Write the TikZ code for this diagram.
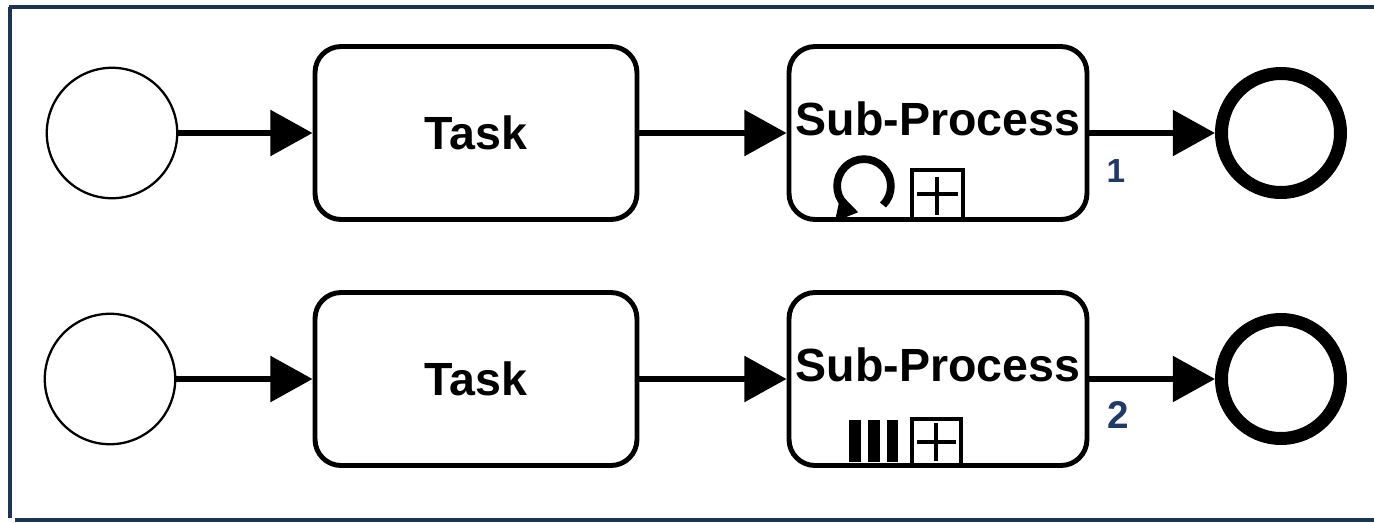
\documentclass[tikz,border=0pt]{standalone}
\usepackage{fontspec}
\setmainfont{Liberation Sans}
\usepackage{tikz}
\usetikzlibrary{positioning, arrows.meta, calc}
\definecolor{frameblue}{HTML}{1C3454}
\definecolor{labelblue}{HTML}{1F3A68}

\begin{document}
\begin{tikzpicture}[x=0.02cm, y=-0.02cm,
	startevent/.style={draw, circle, line width=1.3pt, minimum size=2.61cm, inner sep=0pt},
	endevent/.style={draw, circle, line width=7.4pt, minimum size=2.38cm, inner sep=0pt},
	activity/.style={draw, rectangle, rounded corners=0.52cm, line width=2.8pt, inner sep=0pt,
		minimum height=3.46cm, font=\fontsize{26.5}{30}\selectfont\bfseries},
	subtext/.style={text height=19.5pt, text depth=16.5pt},
	flow/.style={line width=3.6pt, -{Triangle[length=24pt, width=25.5pt]}},
	marker/.style={line width=2.6pt},
	number/.style={text=labelblue, inner sep=0pt}]
			
			\useasboundingbox (0,0) rectangle (1374,522);
			
			%Frame
			\draw[frameblue, line width=2pt] (9,7) -- (1374,7);
			\draw[frameblue, line width=2pt] (10,7) -- (10,518);
			\draw[frameblue, line width=2pt] (15,520) -- (1374,520);
			
			%Blocks
			\node (StartA) at (112,133) [startevent]{};
			\node (TaskA) at (476,133) [activity, minimum width=6.44cm]{Task};
			\node (SubA) at (938,133) [activity, subtext, minimum width=5.96cm]{Sub-Process};
			\node (EndA) at (1281,133) [endevent]{};
			
			\node (StartB) at (110,379) [startevent]{};
			\node (TaskB) at (476,379) [activity, minimum width=6.44cm]{Task};
			\node (SubB) at (938,379) [activity, subtext, minimum width=5.96cm]{Sub-Process};
			\node (EndB) at (1281,379) [endevent]{};
			
			%Links
			\draw[flow] (StartA) -- (TaskA);
			\draw[flow] (TaskA) -- (SubA);
			\draw[flow] (SubA) -- (EndA);
			\draw[flow] (StartB) -- (TaskB);
			\draw[flow] (TaskB) -- (SubB);
			\draw[flow] (SubB) -- (EndB);
			
			%Markers
			\begin{scope}[shift={(SubA.center)}]
			\draw[marker] (-26,37) rectangle (25,86.5);
			\draw[marker] (-21,61) -- (20,61);
			\draw[marker] (-1,44) -- (-1,82);
			\coordinate (LoopA) at (-74,53);
			\draw[line width=4.4pt, -{Triangle[length=12pt, width=15pt]}] ([shift={(-45:15.3pt)}]LoopA) 
			arc[start angle=-45, end angle=258, radius=15.3pt];
			\end{scope}
			
			\begin{scope}[shift={(SubB.center)}]
			\draw[marker] (-26,40) rectangle (23,86.5);
			\draw[marker] (-21,63) -- (18,63);
			\draw[marker] (-2,44) -- (-2,82);
			\fill (-89,41) rectangle (-77,83);
			\fill (-70,41) rectangle (-58,83);
			\fill (-51,41) rectangle (-40,83);
			\end{scope}
			
			%Variables
			\node (NumA) at (1116,171) [number, font=\fontsize{19}{22}\selectfont\bfseries]{1};
			\node (NumB) at (1118,415) [number, font=\fontsize{22}{26}\selectfont\bfseries]{2};
			
\end{tikzpicture}
\end{document}
